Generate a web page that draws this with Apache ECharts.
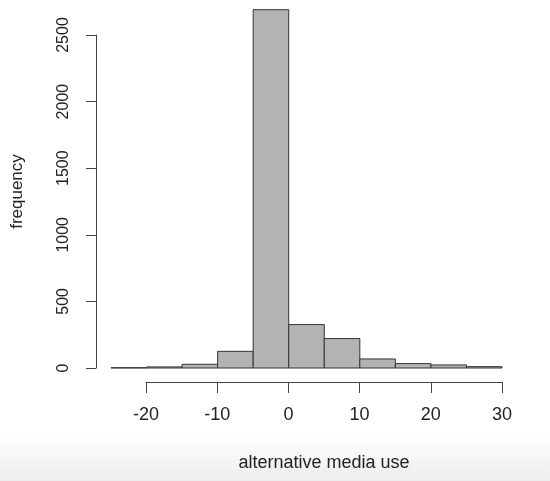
<!DOCTYPE html>
<html>
<head>
<meta charset="utf-8">
<script src="https://cdn.jsdelivr.net/npm/echarts@6/dist/echarts.min.js"></script>
<style>
  html, body { margin: 0; padding: 0; background: #fff; }
  #chart { width: 550px; height: 481px; }
</style>
</head>
<body>
<div id="chart"></div>
<script>
// histogram bins (width 5) and counts
var binStarts = [-25, -20, -15, -10, -5, 0, 5, 10, 15, 20, 25];
var binWidth = 5;
var counts = [2, 8, 28, 125, 2690, 326, 221, 68, 33, 23, 10];
var xTicks = [-20, -10, 0, 10, 20, 30];
var yTicks = [0, 500, 1000, 1500, 2000, 2500];

var font = "'Liberation Sans', Arial, sans-serif";
var ink = '#222';

var histData = binStarts.map(function (s, i) {
  return [s, s + binWidth, counts[i]];
});

var chart = echarts.init(document.getElementById('chart'));
var option = {
  animation: false,
  backgroundColor: '#fff',
  graphic: [{
    // faint grey fade at the bottom of the screenshot
    type: 'rect',
    left: 0, top: 436, z: -10,
    shape: { width: 550, height: 45 },
    style: {
      fill: new echarts.graphic.LinearGradient(0, 0, 0, 1, [
        { offset: 0, color: '#ffffff' },
        { offset: 1, color: '#ececec' }
      ])
    }
  }],
  grid: [
    { left: 111, right: 48, top: 35, bottom: 113, outerBoundsMode: 'none' },
    { left: 146, right: 48, top: 35, bottom: 113, outerBoundsMode: 'none' }
  ],
  xAxis: [{
    gridIndex: 0,
    type: 'value',
    min: -25,
    max: 30,
    show: false
  }, {
    gridIndex: 1,
    type: 'value',
    min: xTicks[0],
    max: xTicks[xTicks.length - 1],
    interval: 10,
    offset: 14,
    splitLine: { show: false },
    axisLine: { show: true, onZero: false, lineStyle: { color: '#444', width: 1 } },
    axisTick: { show: true, length: 11, lineStyle: { color: '#444' } },
    axisLabel: { color: ink, fontSize: 18, fontFamily: font, margin: 24 },
    name: 'alternative media use',
    nameLocation: 'middle',
    nameGap: 72,
    nameTextStyle: { color: ink, fontSize: 18, fontFamily: font }
  }],
  yAxis: [{
    gridIndex: 0,
    type: 'value',
    min: yTicks[0],
    max: yTicks[yTicks.length - 1],
    interval: 500,
    offset: 15,
    splitLine: { show: false },
    axisLine: { show: true, onZero: false, lineStyle: { color: '#444', width: 1 } },
    axisTick: { show: true, length: 10, lineStyle: { color: '#444' } },
    axisLabel: {
      color: ink, fontSize: 16, fontFamily: font, rotate: 90, margin: 24,
      formatter: function (v) { return String(v); }
    },
    name: 'frequency',
    nameLocation: 'middle',
    nameGap: 70,
    nameTextStyle: { color: ink, fontSize: 17, fontFamily: font, padding: [0, 0, 0, 20] }
  }, {
    gridIndex: 1,
    type: 'value',
    min: 0,
    max: 2500,
    show: false
  }],
  series: [{
    type: 'custom',
    xAxisIndex: 0,
    yAxisIndex: 0,
    clip: false,
    data: histData,
    encode: { x: [0, 1], y: 2 },
    renderItem: function (params, api) {
      var p0 = api.coord([api.value(0), 0]);
      var p1 = api.coord([api.value(1), api.value(2)]);
      return {
        type: 'rect',
        shape: { x: p0[0], y: p1[1], width: p1[0] - p0[0], height: p0[1] - p1[1] },
        style: { fill: '#b3b3b3', stroke: '#333', lineWidth: 1 }
      };
    }
  }]
};
chart.setOption(option);
</script>
</body>
</html>
